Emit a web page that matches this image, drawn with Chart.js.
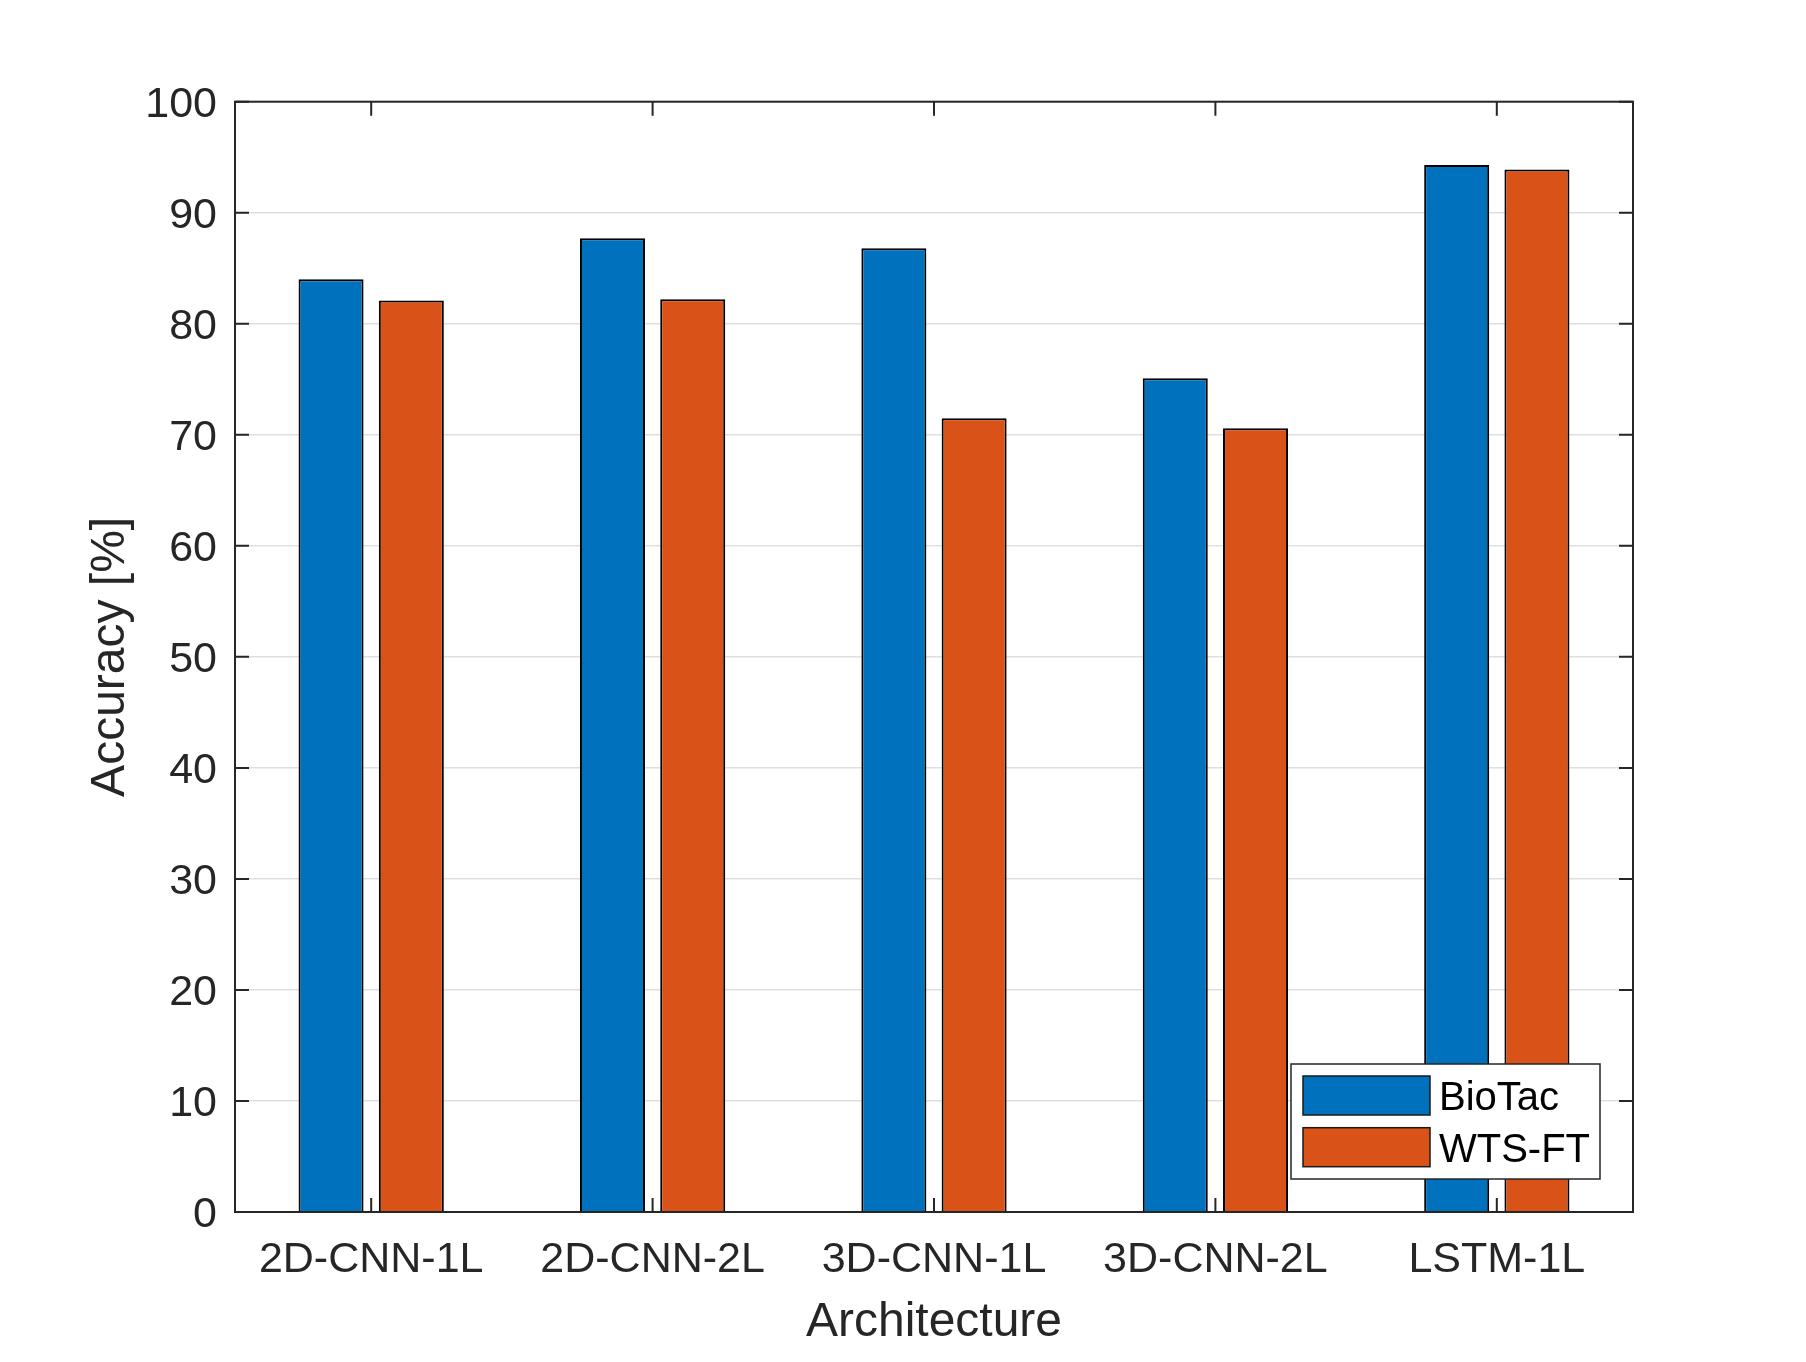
<!DOCTYPE html>
<html>
<head>
<meta charset="utf-8">
<script src="https://cdn.jsdelivr.net/npm/chart.js@4.4.1/dist/chart.umd.min.js"></script>
<style>
  html, body { margin: 0; padding: 0; background: #fff; }
  #wrap { width: 1806px; height: 1362px; }
</style>
</head>
<body>
<div id="wrap"><canvas id="accCanvas"></canvas></div>
<script>
// Data
const architectures = ['2D-CNN-1L', '2D-CNN-2L', '3D-CNN-1L', '3D-CNN-2L', 'LSTM-1L'];
const biotacAcc = [84.0, 87.7, 86.8, 75.1, 94.3];
const wtsftAcc = [82.1, 82.2, 71.5, 70.6, 93.9];
const yTicks = [0, 10, 20, 30, 40, 50, 60, 70, 80, 90, 100];

const AXIS_COLOR = '#262626';
const GRID_COLOR = 'rgba(38,38,38,0.15)';
const FONT = '"Liberation Sans", Arial, Helvetica, sans-serif';
const TICK_LEN = 14;

// x positions 1..n on a linear axis (MATLAB-like limits)
const toPoints = (vals) => vals.map((v, i) => ({ x: i + 1, y: v }));

// Draws the axes box, inward tick marks and the boxed legend
const matlabFrame = {
  id: 'matlabFrame',
  afterDatasetsDraw(chart) {
    const { ctx, chartArea: a, scales: { x, y } } = chart;
    ctx.save();
    ctx.strokeStyle = AXIS_COLOR;
    ctx.lineWidth = 2;
    ctx.strokeRect(a.left, a.top, a.right - a.left, a.bottom - a.top);

    ctx.beginPath();
    y.ticks.forEach((t) => {
      const py = y.getPixelForValue(t.value);
      ctx.moveTo(a.left, py); ctx.lineTo(a.left + TICK_LEN, py);
      ctx.moveTo(a.right, py); ctx.lineTo(a.right - TICK_LEN, py);
    });
    x.ticks.forEach((t) => {
      const px = x.getPixelForValue(t.value);
      ctx.moveTo(px, a.bottom); ctx.lineTo(px, a.bottom - TICK_LEN);
      ctx.moveTo(px, a.top); ctx.lineTo(px, a.top + TICK_LEN);
    });
    ctx.stroke();

    // legend, lower right inside the axes
    const boxW = 309, boxH = 115, inset = 33;
    const bx = a.right - inset - boxW;
    const by = a.bottom - inset - boxH;
    ctx.fillStyle = '#fff';
    ctx.fillRect(bx, by, boxW, boxH);
    ctx.lineWidth = 1.5;
    ctx.strokeStyle = AXIS_COLOR;
    ctx.strokeRect(bx, by, boxW, boxH);

    ctx.font = '40px ' + FONT;
    ctx.textBaseline = 'middle';
    ctx.textAlign = 'left';
    chart.data.datasets.forEach((ds, i) => {
      const sx = bx + 12, sy = by + 12 + i * 51.7;
      ctx.fillStyle = ds.backgroundColor;
      ctx.fillRect(sx, sy, 127, 39);
      ctx.strokeStyle = '#1a1a1a';
      ctx.strokeRect(sx, sy, 127, 39);
      ctx.fillStyle = '#000';
      ctx.fillText(ds.label, sx + 136, sy + 23);
    });
    ctx.restore();
  },
};

new Chart(document.getElementById('accCanvas'), {
  type: 'bar',
  data: {
    datasets: [
      {
        label: 'BioTac',
        data: toPoints(biotacAcc),
        backgroundColor: '#0072BD',
        borderColor: '#000',
        borderWidth: 2,
      },
      {
        label: 'WTS-FT',
        data: toPoints(wtsftAcc),
        backgroundColor: '#D95319',
        borderColor: '#000',
        borderWidth: 2,
      },
    ],
  },
  options: {
    responsive: true,
    maintainAspectRatio: false,
    animation: false,
    categoryPercentage: 0.5705,
    barPercentage: 0.81,
    layout: { padding: { left: 0, top: 101.7, right: 173, bottom: 0 } },
    plugins: {
      legend: { display: false },
      tooltip: { enabled: false },
    },
    scales: {
      x: {
        type: 'linear',
        offset: false,
        min: 0.516,
        max: 5.484,
        afterBuildTicks: (scale) => {
          scale.ticks = architectures.map((_, i) => ({ value: i + 1 }));
        },
        afterFit: (scale) => { scale.height = 150; },
        grid: { display: false, drawTicks: false },
        border: { display: false },
        ticks: {
          autoSkip: false,
          maxRotation: 0,
          padding: 22,
          color: AXIS_COLOR,
          font: { family: FONT, size: 43 },
          callback: (v) => architectures[v - 1] ?? '',
        },
        title: {
          display: true,
          text: 'Architecture',
          color: AXIS_COLOR,
          font: { family: FONT, size: 48, lineHeight: 1.2 },
          padding: { top: 0, bottom: 10 },
        },
      },
      y: {
        min: 0,
        max: 100,
        afterBuildTicks: (scale) => {
          scale.ticks = yTicks.map((v) => ({ value: v }));
        },
        afterFit: (scale) => { scale.width = 235; },
        grid: { color: GRID_COLOR, lineWidth: 1.5, drawTicks: false },
        border: { display: false },
        ticks: {
          padding: 18,
          labelOffset: 3,
          color: AXIS_COLOR,
          font: { family: FONT, size: 43 },
        },
        title: {
          display: true,
          text: 'Accuracy [%]',
          color: AXIS_COLOR,
          font: { family: FONT, size: 48, lineHeight: 1.2 },
          padding: { top: 82, bottom: 0 },
        },
      },
    },
  },
  plugins: [matlabFrame],
});
</script>
</body>
</html>
